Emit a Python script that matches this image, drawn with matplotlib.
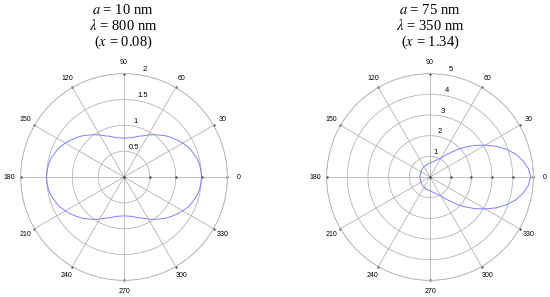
import numpy as np
import matplotlib
matplotlib.use('Agg')
import matplotlib.pyplot as plt

plt.rcParams['font.family'] = ['Liberation Sans', 'DejaVu Sans']
plt.rcParams['mathtext.fontset'] = 'stix'

# Data -------------------------------------------------------------------------
ANGLES_DEG = list(range(0, 365, 5))

# left: a = 10 nm, lambda = 800 nm
R_LEFT = [
    1.50, 1.49, 1.48, 1.45, 1.41, 1.37, 1.31, 1.25, 1.19, 1.13,
    1.06, 1.00, 0.94, 0.88, 0.84, 0.80, 0.77, 0.76, 0.75,
    0.76, 0.77, 0.80, 0.84, 0.88, 0.94, 1.00, 1.06, 1.13, 1.19,
    1.25, 1.31, 1.37, 1.41, 1.45, 1.48, 1.49, 1.50,
    1.49, 1.48, 1.45, 1.41, 1.37, 1.31, 1.25, 1.19, 1.13,
    1.06, 1.00, 0.94, 0.88, 0.84, 0.80, 0.77, 0.76, 0.75,
    0.76, 0.77, 0.80, 0.84, 0.88, 0.94, 1.00, 1.06, 1.13, 1.19,
    1.25, 1.31, 1.37, 1.41, 1.45, 1.48, 1.49, 1.50,
]
# right: a = 75 nm, lambda = 350 nm
R_RIGHT = [
    4.87, 4.77, 4.56, 4.29, 3.93, 3.53, 3.08, 2.67, 2.26, 1.89,
    1.53, 1.28, 1.06, 0.95, 0.86, 0.79, 0.74, 0.70, 0.66,
    0.645, 0.63, 0.61, 0.60, 0.585, 0.57, 0.56, 0.55, 0.535, 0.52,
    0.51, 0.50, 0.495, 0.49, 0.485, 0.48, 0.48, 0.48,
    0.48, 0.48, 0.485, 0.49, 0.495, 0.50, 0.51, 0.52, 0.535,
    0.55, 0.56, 0.57, 0.585, 0.60, 0.61, 0.63, 0.645, 0.66,
    0.70, 0.74, 0.79, 0.86, 0.95, 1.06, 1.28, 1.53, 1.89, 2.26,
    2.67, 3.08, 3.53, 3.93, 4.29, 4.56, 4.77, 4.87,
]

RINGS_LEFT = [0.5, 1, 1.5, 2]
RING_LABELS_LEFT = ['0.5', '1', '1.5', '2']
RINGS_RIGHT = [1, 2, 3, 4, 5]
RING_LABELS_RIGHT = ['1', '2', '3', '4', '5']
SPOKES = list(range(0, 360, 30))

TITLE_LEFT = [r'$a$ = 10 nm', r'$\lambda$ = 800 nm', r'($x$ = 0.08)']
TITLE_RIGHT = [r'$a$ = 75 nm', r'$\lambda$ = 350 nm', r'($x$ = 1.34)']

GRID = '#b4b4b4'
CURVE = '#8080ff'


def polar_panel(ax, r, rings, ring_labels):
    rmax = rings[-1]
    th = np.deg2rad(ANGLES_DEG)
    ax.set_ylim(0, rmax)
    ax.set_yticks(rings)
    ax.set_yticklabels([])
    ax.set_xticks(np.deg2rad(SPOKES))
    ax.set_xticklabels([])
    ax.grid(True, color=GRID, lw=0.6)
    ax.spines['polar'].set_color(GRID)
    ax.spines['polar'].set_linewidth(0.6)
    ax.tick_params(length=0)
    # spoke angle labels
    for a in SPOKES:
        ax.text(np.deg2rad(a), rmax * 1.105, str(a), ha='center',
                va='center', fontsize=5, clip_on=False)
    # ring labels
    for v, lab in zip(rings, ring_labels):
        ax.text(np.deg2rad(80), v * 1.02, lab, ha='left', va='bottom',
                fontsize=5.5)
    # small tick dots
    ax.plot(np.deg2rad(SPOKES), [rmax] * len(SPOKES), ls='none',
            marker='o', ms=0.7, color='#444444', clip_on=False)
    ax.plot([0] * (len(rings) - 1), rings[:-1], ls='none', marker='o',
            ms=0.7, color='#444444')
    ax.plot([0], [0], ls='none', marker='o', ms=0.9, color='#444444')
    ax.plot(th, r, color=CURVE, lw=0.7)


fig = plt.figure(figsize=(5.5, 2.97), dpi=100)
axL = fig.add_axes([0.0375, 0.0555, 0.376, 0.697], projection='polar')
axR = fig.add_axes([0.5938, 0.0555, 0.376, 0.697], projection='polar')
polar_panel(axL, R_LEFT, RINGS_LEFT, RING_LABELS_LEFT)
polar_panel(axR, R_RIGHT, RINGS_RIGHT, RING_LABELS_RIGHT)

for xc, lines in ((0.2236, TITLE_LEFT), (0.782, TITLE_RIGHT)):
    for i, s in enumerate(lines):
        fig.text(xc, 1 - (10 + 16 * i) / 297, s, ha='center', va='center',
                 fontsize=10.5, family='Liberation Serif')

fig.savefig('out.png', dpi=100)
